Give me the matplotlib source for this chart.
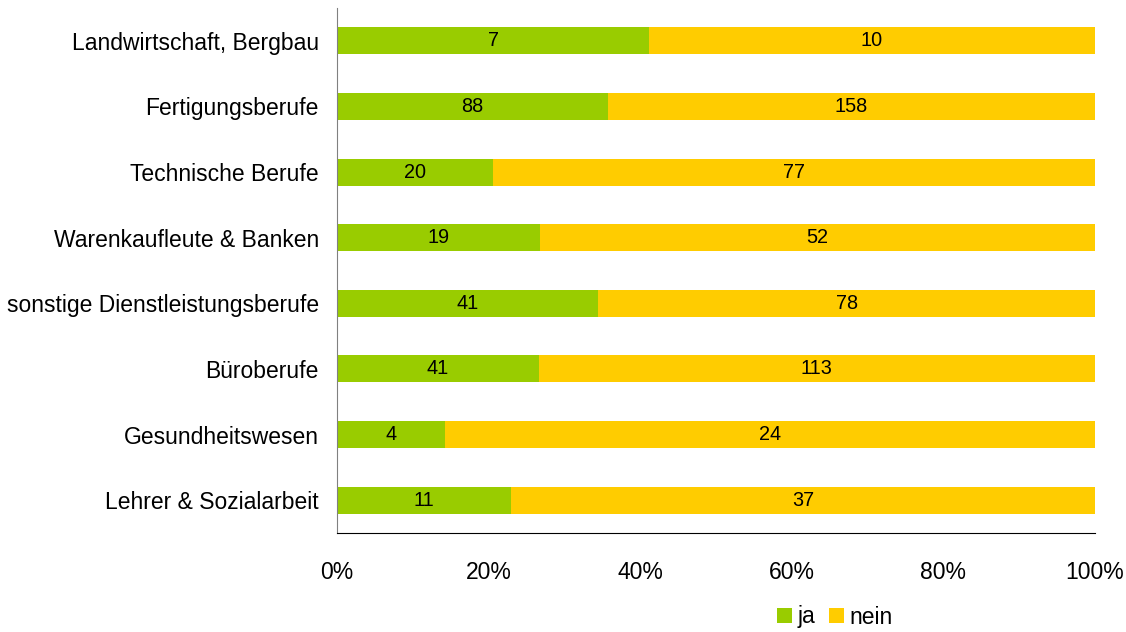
import numpy as np
import matplotlib
matplotlib.use("Agg")
import matplotlib.pyplot as plt
from matplotlib.ticker import FuncFormatter

plt.rcParams['font.family'] = ['Liberation Sans', 'DejaVu Sans']

categories = ["Landwirtschaft, Bergbau", "Fertigungsberufe", "Technische Berufe",
              "Warenkaufleute & Banken", "sonstige Dienstleistungsberufe",
              "Büroberufe", "Gesundheitswesen", "Lehrer & Sozialarbeit"]
ja = [7, 88, 20, 19, 41, 41, 4, 11]
nein = [10, 158, 77, 52, 78, 113, 24, 37]

ja = np.array(ja, dtype=float)
nein = np.array(nein, dtype=float)
total = ja + nein
ja_p = ja / total
nein_p = nein / total

fig = plt.figure(figsize=(11.26, 6.32), dpi=100)
ax = fig.add_axes([337/1126, 1-533/632, (1095-337)/1126, (533-8)/632])

y = np.arange(len(categories))
h = 0.41
b1 = ax.barh(y, ja_p, height=h, color="#99CC00", label="ja")
b2 = ax.barh(y, nein_p, left=ja_p, height=h, color="#FFCC00", label="nein")

# Zahlen in die Balken
for i in range(len(categories)):
    ax.text(ja_p[i]/2, y[i], "%d" % ja[i], ha="center", va="center", fontsize=14.3)
    ax.text(ja_p[i] + nein_p[i]/2, y[i], "%d" % nein[i], ha="center", va="center", fontsize=14.3)

ax.set_xlim(0, 1)
ax.set_ylim(len(categories) - 0.5, -0.5)
ax.set_yticks(y)
ax.set_yticklabels(categories, fontsize=16.5)
ax.set_xticks(np.linspace(0, 1, 6))
ax.xaxis.set_major_formatter(FuncFormatter(lambda v, p: "%d%%" % round(v*100)))
ax.tick_params(axis="x", length=0, labelsize=16.5, pad=20)
ax.tick_params(axis="y", length=0, pad=13)
ax.spines["top"].set_visible(False)
ax.spines["right"].set_visible(False)
ax.spines["left"].set_color("#808080")
ax.spines["bottom"].set_color("black")

fig.legend(handles=[b1, b2], loc="center", bbox_to_anchor=(835/1126, 1-617/632),
           ncol=2, frameon=False, fontsize=16.5, handlelength=0.65, handleheight=0.65,
           handletextpad=0.25, columnspacing=0.6)

fig.savefig("out.png", dpi=100)
